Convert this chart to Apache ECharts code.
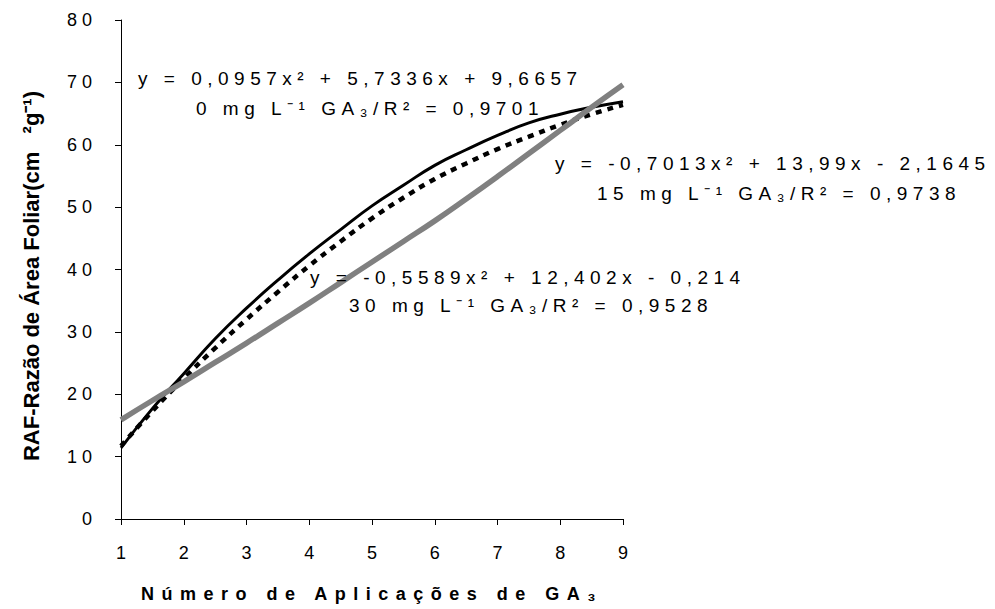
<!DOCTYPE html>
<html>
<head>
<meta charset="utf-8">
<script src="https://cdn.jsdelivr.net/npm/echarts@6.0.0/dist/echarts.min.js"></script>
<style>
  html, body { margin: 0; padding: 0; background: #fff; }
  #chart { width: 995px; height: 609px; }
  svg text[style*="Liberation Sans"] { letter-spacing: 5px; }
  svg text[style*="Liberation Sans"][style*="19px"] { letter-spacing: 5.5px; }
  svg text[style*="sans-serif"] { letter-spacing: 7.5px; }
</style>
</head>
<body>
<div id="chart"></div>
<script>
// ---- data ----
const xValues = [1, 1.5, 2, 2.5, 3, 3.5, 4, 4.5, 5, 5.5, 6, 6.5, 7, 7.5, 8, 8.5, 9];
// 0 mg L-1 GA3 (grey thick line)
const ga0 = [15.9, 19.0, 22.0, 25.1, 28.2, 31.4, 34.6, 37.9, 41.2, 44.5, 47.8, 51.3, 54.9, 58.6, 62.3, 66.0, 69.6];
// 15 mg L-1 GA3 (black solid line)
const ga15 = [11.4, 17.7, 23.3, 28.9, 33.8, 38.3, 42.5, 46.4, 50.2, 53.5, 56.7, 59.2, 61.5, 63.5, 64.9, 66.0, 66.9];
// 30 mg L-1 GA3 (black dashed line)
const ga30 = [11.7, 17.3, 22.5, 27.4, 32.0, 36.4, 40.6, 44.5, 48.2, 51.5, 54.5, 57.0, 59.3, 61.3, 63.2, 64.9, 66.4];

const xTicks = [1, 2, 3, 4, 5, 6, 7, 8, 9];
const yTicks = [0, 10, 20, 30, 40, 50, 60, 70, 80];

const eq0 = ['y = 0,0957x² + 5,7336x + 9,6657', '0 mg L⁻¹ GA₃/R² = 0,9701'];
const eq15 = ['y = -0,7013x² + 13,99x - 2,1645', '15 mg L⁻¹ GA₃/R² = 0,9738'];
const eq30 = ['y = -0,5589x² + 12,402x - 0,214', '30 mg L⁻¹ GA₃/R² = 0,9528'];

const xTitle = 'Número de Aplicações de GA₃';
const yTitle = 'RAF-Razão de Área Foliar(cm   ²g⁻¹)';

// ---- chart ----
const pair = (ys) => xValues.map((x, i) => [x, ys[i]]);
const spaced = 'Liberation Sans';

const chart = echarts.init(document.getElementById('chart'), null, { renderer: 'svg' });

function eqText(x, y, text) {
  return {
    type: 'text', x: x, y: y, silent: true, z: 100,
    style: {
      text: text, fill: '#000', fontSize: 19, fontFamily: spaced,
      textAlign: 'left', textVerticalAlign: 'middle'
    }
  };
}

chart.setOption({
  animation: false,
  backgroundColor: '#fff',
  grid: { left: 121, right: 372, top: 20, bottom: 90, containLabel: false },
  xAxis: {
    type: 'value', min: xTicks[0], max: xTicks[xTicks.length - 1], interval: 1,
    axisLine: { show: true, lineStyle: { color: '#000', width: 1 } },
    axisTick: { show: true, inside: false, length: 6, lineStyle: { color: '#000' } },
    splitLine: { show: false },
    axisLabel: { margin: 25, color: '#000', fontSize: 18, fontFamily: 'Arial' },
    name: xTitle, nameLocation: 'middle', nameGap: 66,
    nameTextStyle: { color: '#000', fontSize: 18, fontWeight: 'bold', fontFamily: 'Liberation Sans, sans-serif' }
  },
  yAxis: {
    type: 'value', min: yTicks[0], max: yTicks[yTicks.length - 1], interval: 10,
    axisLine: { show: true, lineStyle: { color: '#000', width: 1 } },
    axisTick: { show: true, inside: false, length: 6, lineStyle: { color: '#000' } },
    splitLine: { show: false },
    axisLabel: { margin: 24, color: '#000', fontSize: 18, fontFamily: spaced }
  },
  series: [
    {
      name: '15 mg', type: 'line', data: pair(ga15), smooth: true, showSymbol: false,
      lineStyle: { color: '#000', width: 3, type: 'solid' }
    },
    {
      name: '30 mg', type: 'line', data: pair(ga30), smooth: true, showSymbol: false,
      lineStyle: { color: '#000', width: 4.5, type: [6, 6] }
    },
    {
      name: '0 mg', type: 'line', data: pair(ga0), smooth: true, showSymbol: false,
      lineStyle: { color: '#808080', width: 5.5, type: 'solid' }
    }
  ],
  graphic: [
    {
      type: 'text', x: 31, y: 276, rotation: Math.PI / 2, silent: true,
      style: {
        text: yTitle, fill: '#000', fontSize: 22, fontWeight: 'bold', fontFamily: 'Arial',
        textAlign: 'center', textVerticalAlign: 'middle'
      }
    },
    eqText(138, 78, eq0[0]), eqText(196, 108, eq0[1]),
    eqText(555, 163, eq15[0]), eqText(597, 193, eq15[1]),
    eqText(310, 277, eq30[0]), eqText(349, 305, eq30[1])
  ]
});
</script>
</body>
</html>
